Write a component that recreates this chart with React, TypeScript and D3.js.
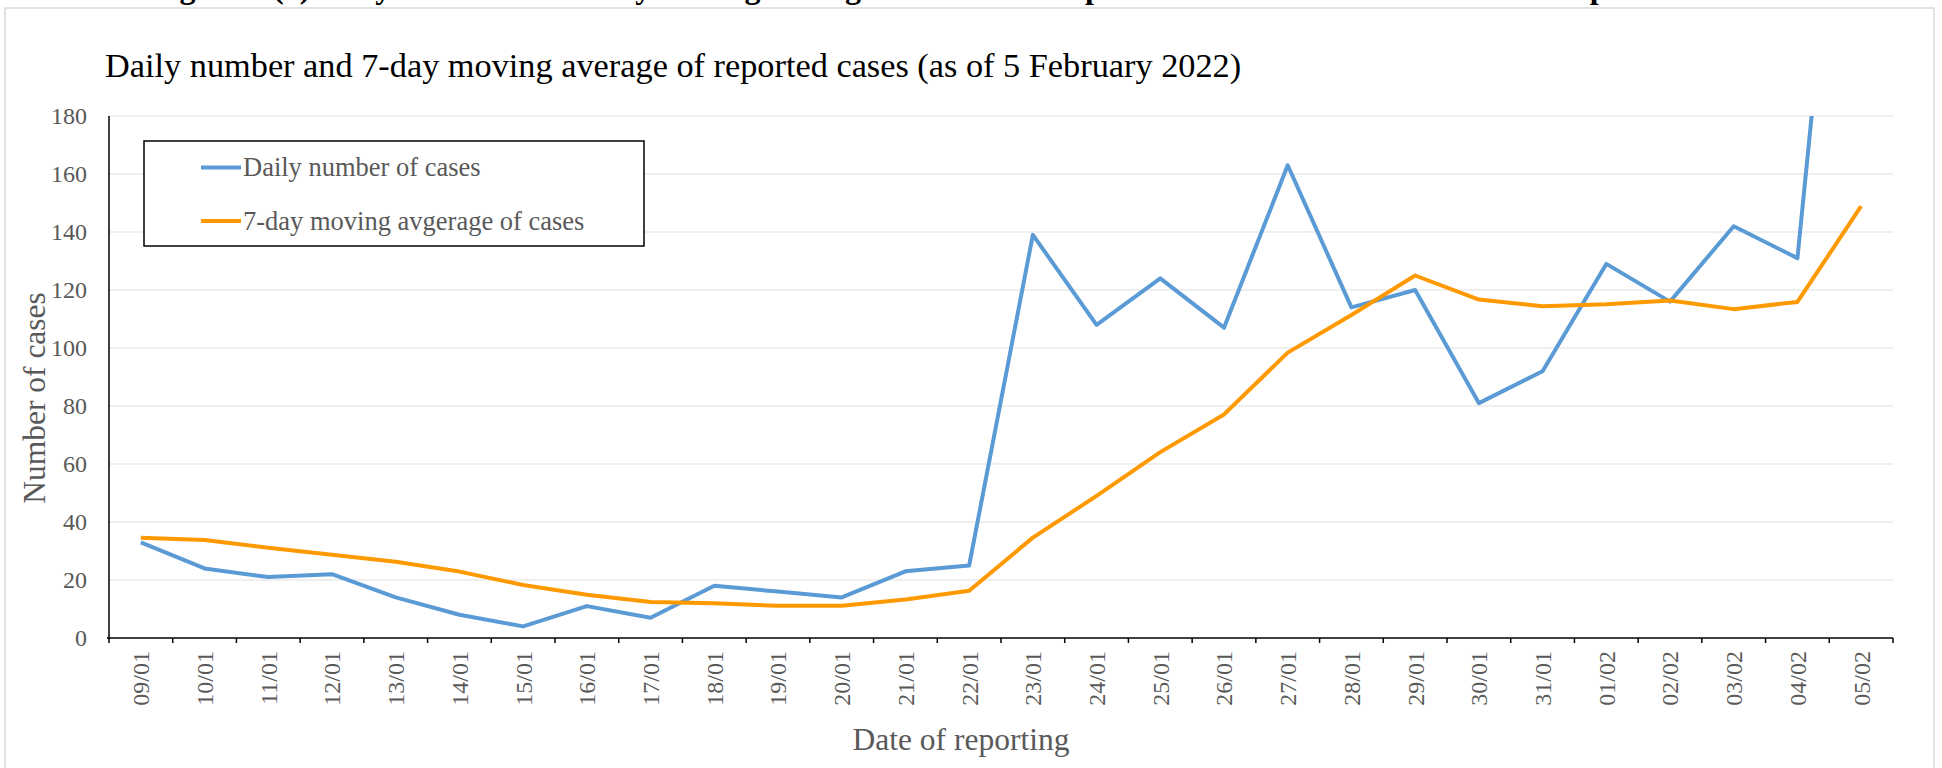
import React from "react";
import * as d3 from "d3";

const dates = [
  "09/01", "10/01", "11/01", "12/01", "13/01", "14/01", "15/01", "16/01", "17/01", "18/01",
  "19/01", "20/01", "21/01", "22/01", "23/01", "24/01", "25/01", "26/01", "27/01", "28/01",
  "29/01", "30/01", "31/01", "01/02", "02/02", "03/02", "04/02", "05/02",
];
const dailyCases = [
  33, 24, 21, 22, 14, 8, 4, 11, 7, 18,
  16, 14, 23, 25, 139, 108, 124, 107, 163, 114,
  120, 81, 92, 129, 116, 142, 131, 351,
];
const movingAvg = [
  34.6, 33.8, 31.1, 28.7, 26.3, 22.9, 18.3, 14.9, 12.4, 12.0,
  11.1, 11.1, 13.3, 16.3, 34.6, 49.0, 64.1, 77.1, 98.4, 111.4,
  125.0, 116.7, 114.4, 115.1, 116.4, 113.4, 115.9, 148.9,
];
const yTicks = [0, 20, 40, 60, 80, 100, 120, 140, 160, 180];
const seriesNames = ["Daily number of cases", "7-day moving avgerage of cases"];
const seriesColors = ["#5B9BD5", "#FF9900"];

const W = 1942;
const H = 768;
const plot = { left: 109, right: 1893, top: 116, bottom: 638 };
const serif = "'Liberation Serif', 'Times New Roman', Times, serif";
const grey = "#595959";

export default function App() {
  const x = d3.scaleBand<string>().domain(dates).range([plot.left, plot.right]).paddingInner(0).paddingOuter(0);
  const y = d3.scaleLinear().domain([0, 180]).range([plot.bottom, plot.top]);
  const cx = (d: string) => (x(d) as number) + x.bandwidth() / 2;

  const line = d3
    .line<number>()
    .x((_, i) => cx(dates[i]))
    .y((v) => y(v));

  const boundaries = dates.map((d) => x(d) as number).concat([plot.right]);

  return (
    <svg
      width={W}
      height={H}
      viewBox={`0 0 ${W} ${H}`}
      style={{ position: "absolute", left: 0, top: 0, background: "#fff" }}
    >
      <defs>
        <clipPath id="plotClip">
          <rect x={plot.left} y={plot.top} width={plot.right - plot.left + 10} height={plot.bottom - plot.top + 10} />
        </clipPath>
      </defs>

      {/* caption of the figure, cut off by the top edge as in the source */}
      <text x={151} y={-2} fontFamily={serif} fontWeight="bold" fontSize={32} fill="#000">
        Figure 1 (a) Daily number and 7-day moving average of local and imported cases in the fifth wave of the epidemic
      </text>

      {/* chart frame */}
      <rect x={5} y={8} width={1929} height={800} fill="#fff" stroke="#d9d9d9" strokeWidth={1.5} />

      {/* title */}
      <text x={105} y={77} fontFamily={serif} fontSize={34.3} fill="#000">
        Daily number and 7-day moving average of reported cases (as of 5 February 2022)
      </text>

      {/* gridlines */}
      {yTicks.filter((t) => t > 0).map((t) => (
        <line key={t} x1={plot.left} x2={plot.right} y1={y(t)} y2={y(t)} stroke="#e0e0e0" strokeWidth={1.2} />
      ))}

      {/* y tick labels */}
      {yTicks.map((t) => (
        <text
          key={t}
          x={87}
          y={y(t)}
          dy="0.35em"
          textAnchor="end"
          fontFamily={serif}
          fontSize={24}
          fill={grey}
        >
          {t}
        </text>
      ))}

      {/* axes */}
      <line x1={plot.left} x2={plot.left} y1={plot.top} y2={plot.bottom} stroke="#000" strokeWidth={1.5} />
      <line x1={plot.left - 2} x2={plot.right} y1={plot.bottom} y2={plot.bottom} stroke="#000" strokeWidth={1.5} />
      {boundaries.map((bx, i) => (
        <line key={i} x1={bx} x2={bx} y1={plot.bottom} y2={plot.bottom + 5} stroke="#000" strokeWidth={1.5} />
      ))}

      {/* x tick labels */}
      {dates.map((d) => (
        <text
          key={d}
          transform={`translate(${cx(d)},${651}) rotate(-90)`}
          dy="0.35em"
          textAnchor="end"
          fontFamily={serif}
          fontSize={24}
          fill={grey}
        >
          {d}
        </text>
      ))}

      {/* axis titles */}
      <text
        transform={`translate(45,398) rotate(-90)`}
        textAnchor="middle"
        fontFamily={serif}
        fontSize={31.5}
        fill={grey}
      >
        Number of cases
      </text>
      <text x={961} y={750} textAnchor="middle" fontFamily={serif} fontSize={31.5} fill={grey}>
        Date of reporting
      </text>

      {/* series */}
      <g clipPath="url(#plotClip)">
        <path d={line(dailyCases) || ""} fill="none" stroke={seriesColors[0]} strokeWidth={4} strokeLinejoin="round" />
        <path d={line(movingAvg) || ""} fill="none" stroke={seriesColors[1]} strokeWidth={4} strokeLinejoin="round" />
      </g>

      {/* legend */}
      <rect x={144} y={141} width={500} height={105} fill="#fff" stroke="#000" strokeWidth={1.5} />
      {seriesNames.map((name, i) => {
        const ly = i === 0 ? 167.5 : 221;
        return (
          <g key={name}>
            <line x1={201} x2={241} y1={ly} y2={ly} stroke={seriesColors[i]} strokeWidth={4} />
            <text x={243} y={ly + 8.5} fontFamily={serif} fontSize={26.5} fill={grey}>
              {name}
            </text>
          </g>
        );
      })}
    </svg>
  );
}
